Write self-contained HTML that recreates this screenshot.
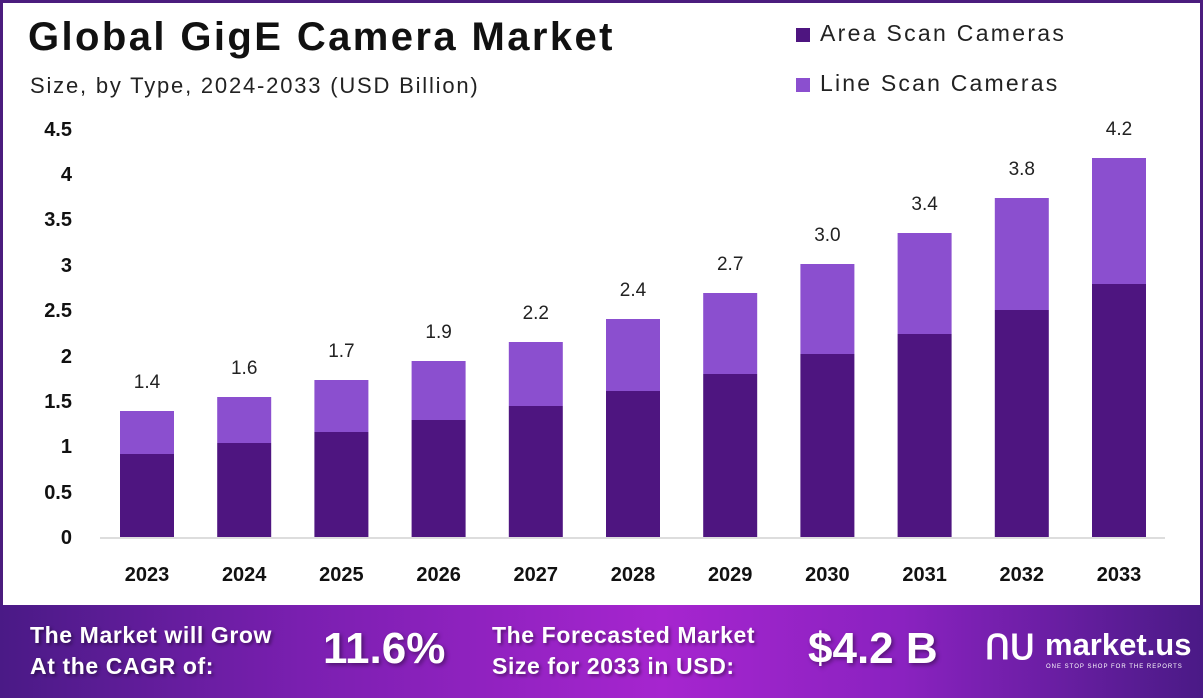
<!DOCTYPE html>
<html><head><style>
body{margin:0;width:1203px;height:698px;overflow:hidden;background:#fff;font-family:"Liberation Sans",sans-serif;position:relative}
.frame{position:absolute;left:0;top:0;width:1197px;height:602px;border:3px solid #4b1d7e;border-bottom:none}
.ban{position:absolute;left:0;top:605px;width:1203px;height:93px;background:linear-gradient(90deg,#4a1a86 0%,#7a1fb0 25%,#a625cf 55%,#8a22c0 75%,#4a1a86 100%)}
.bt{position:absolute;color:#fff;font-weight:bold;font-size:23px;letter-spacing:0.6px;line-height:31px;text-shadow:2px 2px 3px rgba(0,0,0,.4)}
.big{position:absolute;color:#fff;font-weight:bold;font-size:44px;text-shadow:2px 2px 4px rgba(0,0,0,.4)}
</style></head><body>
<div class="frame"></div>
<div style="position:absolute;left:28px;top:15px;font-size:40px;font-weight:bold;color:#111;letter-spacing:2.4px">Global GigE Camera Market</div>
<div style="position:absolute;left:30px;top:73px;font-size:22px;color:#222;letter-spacing:1.8px">Size, by Type, 2024-2033 (USD Billion)</div>
<div style="position:absolute;left:796px;top:28px;width:14px;height:14px;background:#4e1580"></div>
<div style="position:absolute;left:820px;top:20px;font-size:23px;color:#222;letter-spacing:2.3px">Area Scan Cameras</div>
<div style="position:absolute;left:796px;top:78px;width:14px;height:14px;background:#8b4fcf"></div>
<div style="position:absolute;left:820px;top:70px;font-size:23px;color:#222;letter-spacing:2.2px">Line Scan Cameras</div>
<svg width="1203" height="605" style="position:absolute;left:0;top:0" font-family="Liberation Sans, sans-serif">
<line x1="100" y1="538" x2="1165" y2="538" stroke="#ddd" stroke-width="2"/>
<g font-size="20" font-weight="bold" fill="#111" text-anchor="end">
<text x="72" y="544">0</text><text x="72" y="499">0.5</text><text x="72" y="453">1</text><text x="72" y="408">1.5</text><text x="72" y="363">2</text><text x="72" y="317">2.5</text><text x="72" y="272">3</text><text x="72" y="226">3.5</text><text x="72" y="181">4</text><text x="72" y="136">4.5</text>
</g>
<g id="bars"></g>
</svg>
<div class="ban"></div>
<div class="bt" style="left:30px;top:620px">The Market will Grow<br>At the CAGR of:</div>
<div class="big" style="left:323px;top:624px">11.6%</div>
<div class="bt" style="left:492px;top:620px">The Forecasted Market<br>Size for 2033 in USD:</div>
<div class="big" style="left:808px;top:624px">$4.2 B</div>
<div style="position:absolute;left:985px;top:628px;color:#fff;font-size:34px;font-weight:bold">ՈՍ</div>
<div style="position:absolute;left:1045px;top:627px;color:#fff;font-size:31px;font-weight:bold">market.us</div>
<div style="position:absolute;left:1046px;top:664px;color:#fff;font-size:6px;letter-spacing:1px">ONE STOP SHOP FOR THE REPORTS</div>
<script>
var d=[[1.4,411,454],[1.6,397,443],[1.7,380,432],[1.9,361,420],[2.2,342,406],[2.4,319,391],[2.7,293,374],[3.0,264,354],[3.4,233,334],[3.8,198,310],[4.2,158,284]];
var s='';d.forEach(function(r,i){var c=147+i*97.2,x=c-27;
s+='<rect x="'+x+'" y="'+r[1]+'" width="54" height="'+(r[2]-r[1])+'" fill="#8b4fcf"/>';
s+='<rect x="'+x+'" y="'+r[2]+'" width="54" height="'+(537-r[2])+'" fill="#4e1580"/>';
s+='<text x="'+c+'" y="'+(r[1]-23)+'" font-size="19" fill="#222" text-anchor="middle">'+r[0].toFixed(1)+'</text>';
s+='<text x="'+c+'" y="581" font-size="20" font-weight="bold" fill="#111" text-anchor="middle">'+(2023+i)+'</text>';});
document.getElementById('bars').innerHTML=s;
</script>
</body></html>
